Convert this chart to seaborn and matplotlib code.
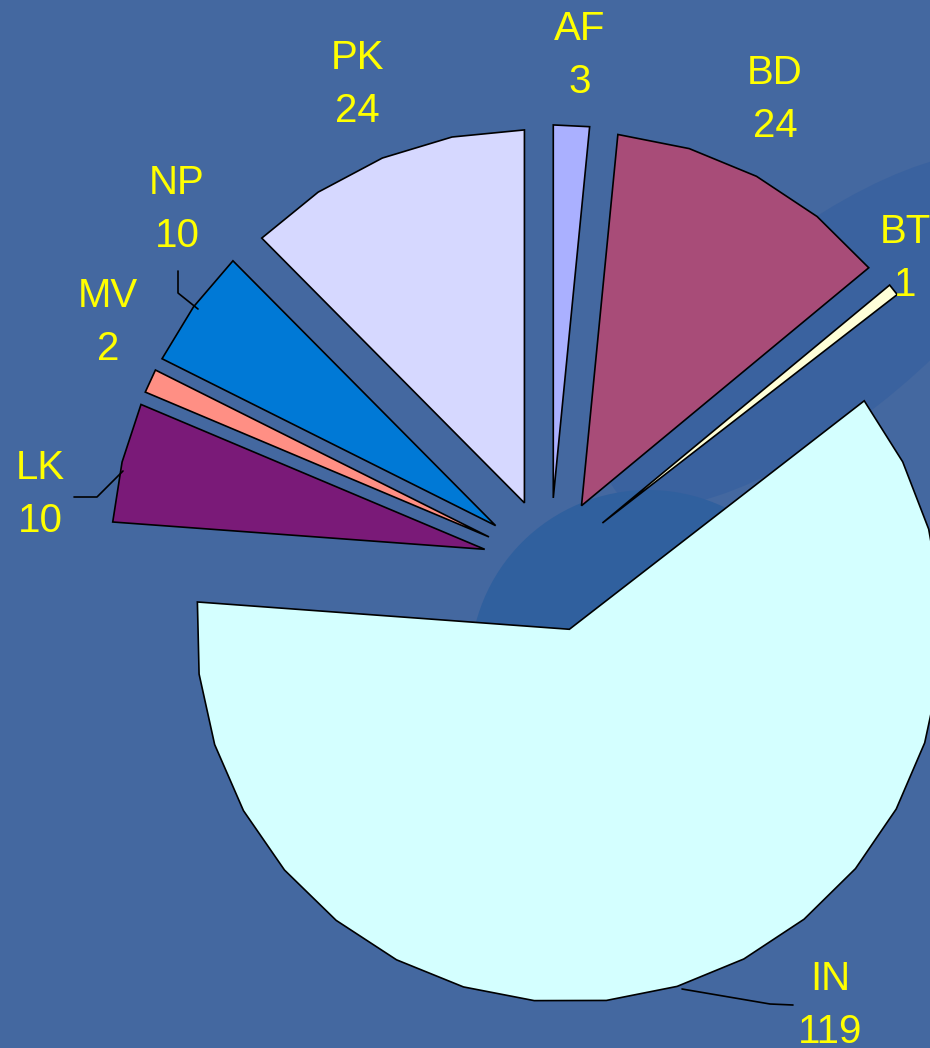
import matplotlib
matplotlib.use("Agg")
import numpy as np
import matplotlib.pyplot as plt
from matplotlib.patches import Polygon, Circle, Ellipse
import seaborn as sns

# Data
countries = ["AF", "BD", "BT", "IN", "LK", "MV", "NP", "PK"]
counts = [3, 24, 1, 119, 10, 2, 10, 24]
colors = ["#aab0ff", "#a84c78", "#ffffd8", "#d4ffff", "#7a1a78", "#ff8f84", "#0079d6", "#d6d8ff"]

# label block centres (data units, radius = 1)
label_pos = {
    "AF": (0.080, 1.367), "BD": (0.603, 1.247), "BT": (0.952, 0.823),
    "IN": (0.751, -1.180), "LK": (-1.367, 0.188), "MV": (-1.185, 0.649),
    "NP": (-1.0, 0.952), "PK": (-0.517, 1.287),
}

sns.set_theme(style="white")
plt.rcParams["font.family"] = ["Liberation Sans", "DejaVu Sans"]

bg = "#4468a0"
W, H, R = 930, 1048, 373.0
cx, cy = 550, 565


def px(x, y):
    return ((x - cx) / R, (cy - y) / R)


fig = plt.figure(figsize=(W / 100, H / 100), dpi=100, facecolor=bg)
ax = fig.add_axes([0, 0, 1, 1])
ax.set_facecolor(bg)

# faint darker swirl of the slide background
ax.add_patch(Ellipse(px(820, 330), 520 / R, 190 / R, angle=38,
                     facecolor="#3a629f", edgecolor="none", zorder=0))
ax.add_patch(Circle(px(648, 668), 178 / R, facecolor="#30609e", edgecolor="none", zorder=0))

wedges, _ = ax.pie(counts, colors=colors, startangle=90, counterclock=False,
                   explode=[0.18] * len(counts), radius=1,
                   wedgeprops=dict(edgecolor="black", linewidth=1.2))

# redraw each wedge with a coarse segmented arc, like the original
for w in wedges:
    c = np.array(w.center)
    t1, t2 = w.theta1, w.theta2
    n = int(np.ceil((t2 - t1) / 11.25 - 1e-6))
    angs = np.radians(np.linspace(t1, t2, n + 1))
    arc = c + w.r * np.column_stack([np.cos(angs), np.sin(angs)])
    verts = np.vstack([c, arc])
    ax.add_patch(Polygon(verts, closed=True, facecolor=w.get_facecolor(),
                         edgecolor="black", linewidth=1.2, zorder=2))
    w.set_visible(False)

# leader lines
leaders = [
    [(178, 271), (178, 293), (198, 309)],
    [(74, 497), (97, 497), (123, 471)],
    [(793, 1005), (770, 1004), (682, 989)],
]
for pts in leaders:
    xy = [px(*p) for p in pts]
    ax.plot([p[0] for p in xy], [p[1] for p in xy], color="black", lw=1.2, zorder=3)

for name, val in zip(countries, counts):
    x, y = label_pos[name]
    ax.text(x, y, f"{name}\n{val}", color="#ffff00", fontsize=29,
            ha="center", va="center", linespacing=1.5, zorder=4)

ax.set_xlim(-cx / R, (W - cx) / R)
ax.set_ylim(-(H - cy) / R, cy / R)
ax.set_aspect("auto")
ax.axis("off")

fig.savefig("out.png", dpi=100, facecolor=bg)
